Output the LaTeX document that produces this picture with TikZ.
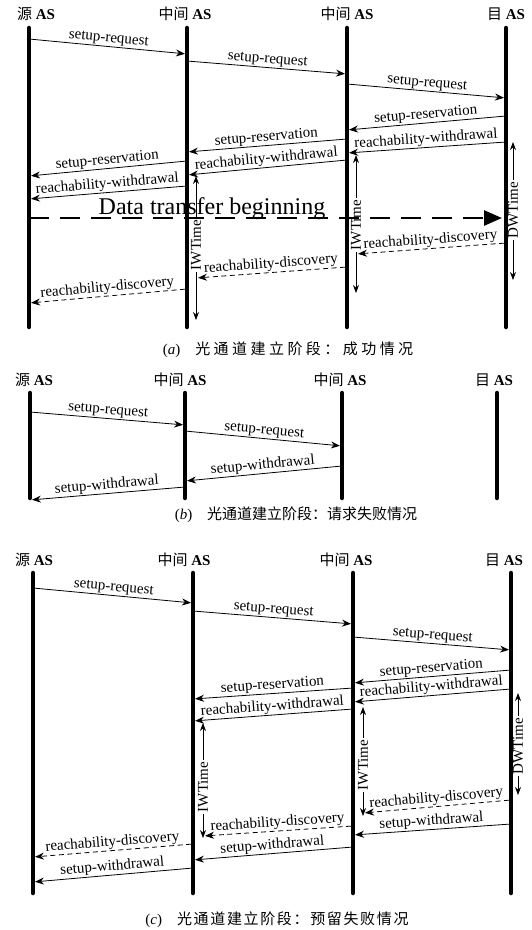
\documentclass[tikz,border=0pt]{standalone}
\usepackage{fontspec}
\setmainfont{Liberation Serif}
\newfontfamily\cjk{Noto Sans CJK SC}
\usetikzlibrary{arrows.meta}
\begin{document}
\begin{tikzpicture}[x=1pt, y=-1pt,
    every node/.style={font=\fontsize{15}{16}\selectfont},
    life/.style={line width=4.5pt, line cap=round},
    msg/.style={line width=0.8pt, -{Stealth[length=9pt,width=7pt]}, shorten >=2pt, shorten <=2pt},
    dmsg/.style={msg, dash pattern=on 5pt off 3.5pt},
    lbl/.style={sloped, above, inner sep=1pt},
    tarr/.style={line width=0.8pt, -{Stealth[length=8pt,width=6pt]}},
    tlbl/.style={rotate=90, inner sep=2pt},
    data/.style={line width=2.6pt, dash pattern=on 20pt off 11pt, -{Triangle[length=18pt,width=15pt]}, shorten >=4pt}
]
\useasboundingbox (0,0) rectangle (532,930);
\def\as{\textbf{AS}}

\node (ha1) at (36,14)  {{\cjk 源} \as};
\node (ha2) at (185,14) {{\cjk 中间} \as};
\node (ha3) at (347,14) {{\cjk 中间} \as};
\node (ha4) at (506,14) {{\cjk 目} \as};
\foreach \n/\x in {1/29,2/187,3/347,4/506} {
  \coordinate (a\n t) at (\x,28);
  \coordinate (a\n b) at (\x,327);
  \draw[life] (a\n t) -- (a\n b);
}
\draw[msg] (a1t |- 0,39)  -- node[lbl] {setup-request} (a2t |- 0,54);
\draw[msg] (a2t |- 0,61)  -- node[lbl] {setup-request} (a3t |- 0,74);
\draw[msg] (a3t |- 0,84)  -- node[lbl] {setup-request} (a4t |- 0,98);
\draw[msg] (a4t |- 0,116) -- node[lbl] {setup-reservation} (a3t |- 0,130);
\draw[msg] (a4t |- 0,142) -- node[lbl] {reachability-withdrawal} (a3t |- 0,153);
\draw[msg] (a3t |- 0,139) -- node[lbl] {setup-reservation} (a2t |- 0,152);
\draw[msg] (a3t |- 0,160) -- node[lbl] {reachability-withdrawal} (a2t |- 0,175);
\draw[msg] (a2t |- 0,161) -- node[lbl] {setup-reservation} (a1t |- 0,176);
\draw[msg] (a2t |- 0,186) -- node[lbl] {reachability-withdrawal} (a1t |- 0,199);

\node[tlbl] (iwa2) at (196,245) {IWTime};
\draw[tarr] (iwa2) -- (iwa2 |- 0,176);
\draw[tarr] (iwa2) -- (iwa2 |- 0,320);
\node[tlbl] (iwa3) at (356,225) {IWTime};
\draw[tarr] (iwa3) -- (iwa3 |- 0,155);
\draw[tarr] (iwa3) -- (iwa3 |- 0,293);
\node[tlbl] (dwa4) at (513,210) {DWTime};
\draw[tarr] (dwa4) -- (dwa4 |- 0,142);
\draw[tarr] (dwa4) -- (dwa4 |- 0,280);

\node[anchor=base, font=\fontsize{24}{24}\selectfont] (dtb) at (212,214) {Data transfer beginning};
\draw[data] (a1t |- 0,218) -- (a4t |- 0,218);

\draw[dmsg] (a4t |- 0,243) -- node[lbl] {reachability-discovery} (iwa3 |- 0,254);
\draw[dmsg] (a3t |- 0,267) -- node[lbl] {reachability-discovery} (iwa2 |- 0,278);
\draw[dmsg] (a2t |- 0,289) -- node[lbl] {reachability-discovery} (a1t |- 0,303);

\node (capa) at (288,350) {(\textit{a})\quad{\cjk\addfontfeatures{LetterSpace=23}光通道建立阶段：成功情况}};

\node (hb1) at (34,380)  {{\cjk 源} \as};
\node (hb2) at (180,380) {{\cjk 中间} \as};
\node (hb3) at (340,380) {{\cjk 中间} \as};
\node (hb4) at (494,380) {{\cjk 目} \as};
\foreach \n/\x in {1/30,2/185,3/342,4/497} {
  \coordinate (b\n t) at (\x,393);
  \coordinate (b\n b) at (\x,498);
  \draw[life] (b\n t) -- (b\n b);
}
\draw[msg] (b1t |- 0,412) -- node[lbl] {setup-request} (b2t |- 0,425);
\draw[msg] (b2t |- 0,431) -- node[lbl] {setup-request} (b3t |- 0,446);
\draw[msg] (b3t |- 0,466) -- node[lbl] {setup-withdrawal} (b2t |- 0,481);
\draw[msg] (b2t |- 0,487) -- node[lbl] {setup-withdrawal} (b1t |- 0,500);

\node (capb) at (296,515) {(\textit{b})\quad{\cjk 光通道建立阶段：请求失败情况}};

\node (hc1) at (34,560)  {{\cjk 源} \as};
\node (hc2) at (184,560) {{\cjk 中间} \as};
\node (hc3) at (346,560) {{\cjk 中间} \as};
\node (hc4) at (504,560) {{\cjk 目} \as};
\foreach \n/\x in {1/33,2/193,3/353,4/511} {
  \coordinate (c\n t) at (\x,573);
  \coordinate (c\n b) at (\x,893);
  \draw[life] (c\n t) -- (c\n b);
}
\draw[msg] (c1t |- 0,588) -- node[lbl] {setup-request} (c2t |- 0,603);
\draw[msg] (c2t |- 0,611) -- node[lbl] {setup-request} (c3t |- 0,624);
\draw[msg] (c3t |- 0,637) -- node[lbl] {setup-request} (c4t |- 0,650);
\draw[msg] (c4t |- 0,670) -- node[lbl] {setup-reservation} (c3t |- 0,683);
\draw[msg] (c4t |- 0,689) -- node[lbl] {reachability-withdrawal} (c3t |- 0,702);
\draw[msg] (c3t |- 0,688) -- node[lbl] {setup-reservation} (c2t |- 0,699);
\draw[msg] (c3t |- 0,709) -- node[lbl] {reachability-withdrawal} (c2t |- 0,721);

\node[tlbl] (iwc2) at (203,787) {IWTime};
\draw[tarr] (iwc2) -- (iwc2 |- 0,723);
\draw[tarr] (iwc2) -- (iwc2 |- 0,838);
\node[tlbl] (iwc3) at (363,765) {IWTime};
\draw[tarr] (iwc3) -- (iwc3 |- 0,707);
\draw[tarr] (iwc3) -- (iwc3 |- 0,816);
\node[tlbl] (dwc4) at (518,746) {DWTime};
\draw[tarr] (dwc4) -- (dwc4 |- 0,693);
\draw[tarr] (dwc4) -- (dwc4 |- 0,795);

\draw[dmsg] (c4t |- 0,800) -- node[lbl] {reachability-discovery} (iwc3 |- 0,813);
\draw[msg]  (c4t |- 0,824) -- node[lbl] {setup-withdrawal} (c3t |- 0,835);
\draw[dmsg] (c3t |- 0,826) -- node[lbl] {reachability-discovery} (iwc2 |- 0,836);
\draw[msg]  (c3t |- 0,847) -- node[lbl] {setup-withdrawal} (c2t |- 0,860);
\draw[dmsg] (c2t |- 0,844) -- node[lbl] {reachability-discovery} (c1t |- 0,857);
\draw[msg]  (c2t |- 0,868) -- node[lbl] {setup-withdrawal} (c1t |- 0,882);

\node (capc) at (277,920) {(\textit{c})\quad{\cjk\addfontfeatures{LetterSpace=11}光通道建立阶段：预留失败情况}};
\end{tikzpicture}
\end{document}
